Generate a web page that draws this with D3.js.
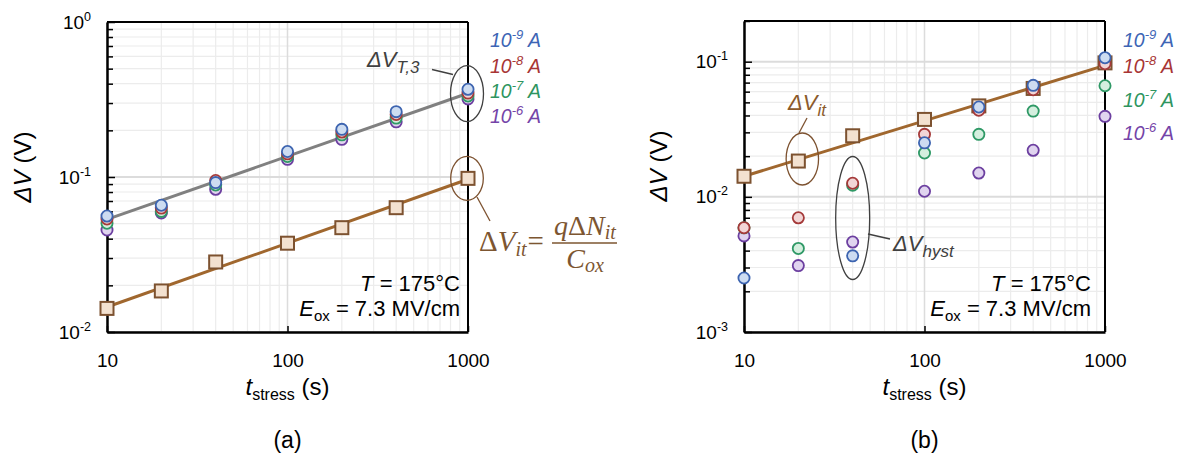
<!DOCTYPE html>
<html><head><meta charset="utf-8">
<script src="https://cdn.jsdelivr.net/npm/d3@7"></script>
<style>body{margin:0;background:#fff}svg{display:block}</style>
</head><body><svg id="c" width="1180" height="455"></svg>
<script>
// ---------------- data ----------------
const tStress = [10, 20, 40, 100, 200, 400, 1000];
const currentExps = [-9, -8, -7, -6];
const xTickValues = [10, 100, 1000];
const xTickLabels = ["10", "100", "1000"];
const yTickExpsA = [-2, -1, 0];
const yTickExpsB = [-3, -2, -1];

// (a) threshold-voltage shift ΔV_T,3 per sensing current
const dVT3_1e9 = [0.056, 0.0657, 0.092, 0.146, 0.203, 0.264, 0.368];
const dVT3_1e8 = [0.0536, 0.063, 0.0949, 0.141, 0.195, 0.253, 0.348];
const dVT3_1e7 = [0.0503, 0.060, 0.0888, 0.1356, 0.187, 0.240, 0.333];
const dVT3_1e6 = [0.0455, 0.0586, 0.0833, 0.130, 0.175, 0.227, 0.319];
// interface-trap contribution ΔV_it
const dVit = [0.0142, 0.0184, 0.0283, 0.0374, 0.0471, 0.0634, 0.098];
// power-law fit end points
const fitT = [10, 1000];
const fitT3 = [0.0533, 0.347];
const fitItA = [0.0145, 0.0967];
const fitItB = [0.0142, 0.094];

// (b) hysteresis ΔV_hyst per sensing current
const dVhyst_1e9 = [0.00251, null, 0.00366, 0.0251, 0.0462, 0.0668, 0.107];
const dVhyst_1e8 = [0.00591, 0.0070, 0.0126, 0.029, 0.0437, 0.062, 0.0966];
const dVhyst_1e7 = [0.0059, 0.00415, 0.0122, 0.0211, 0.029, 0.0431, 0.0664];
const dVhyst_1e6 = [0.00514, 0.0031, 0.00463, 0.011, 0.0150, 0.0221, 0.0394];

// ---------------- styles ----------------
const SANS = "'Liberation Sans', Arial, sans-serif";
const SERIF = "'Liberation Serif', 'Times New Roman', serif";
const seriesStyle = [
  {stroke: "#3d64b0", fill: "#cddcf1", text: "#3d65b5"},
  {stroke: "#a53a3a", fill: "#f2d6d6", text: "#a83535"},
  {stroke: "#2f9966", fill: "#d5efdf", text: "#2e955f"},
  {stroke: "#6c3fa0", fill: "#e0d4ef", text: "#7444a8"}
];
const BROWN_LINE = "#a0672e", BROWN_EDGE = "#7d5230", BROWN_FILL = "#f3e1d0", BROWN_TEXT = "#7d5631";

const svg = d3.select("#c");

function gridValues(lo, hi) {
  const out = [];
  for (let e = Math.floor(Math.log10(lo)) - 1; e <= Math.ceil(Math.log10(hi)); e++) {
    for (let k = 1; k <= 9; k++) {
      const v = k * Math.pow(10, e);
      if (v >= lo * 0.9999 && v <= hi * 1.0001) out.push(+v.toPrecision(6));
    }
  }
  return out;
}
const isMajor = v => Math.abs(Math.log10(v) - Math.round(Math.log10(v))) < 1e-6;

function panel(o) {
  const x = d3.scaleLog().domain([10, 1000]).range([o.x0, o.x1]);
  const y = d3.scaleLog().domain(o.yDomain).range([o.yBottom, o.yTop]);
  const g = svg.append("g");

  // grid
  const gx = gridValues(10, 1000), gy = gridValues(o.yDomain[0], o.yDomain[1]);
  g.append("g").selectAll("line").data(gx.filter(v => !isMajor(v))).join("line")
    .attr("x1", d => x(d)).attr("x2", d => x(d)).attr("y1", o.yTop).attr("y2", o.yBottom)
    .attr("stroke", "#ececec").attr("stroke-width", 1.2);
  g.append("g").selectAll("line").data(gy.filter(v => !isMajor(v))).join("line")
    .attr("y1", d => y(d)).attr("y2", d => y(d)).attr("x1", o.x0).attr("x2", o.x1)
    .attr("stroke", "#ececec").attr("stroke-width", 1.2);
  g.append("g").selectAll("line").data(gx.filter(isMajor)).join("line")
    .attr("x1", d => x(d)).attr("x2", d => x(d)).attr("y1", o.yTop).attr("y2", o.yBottom)
    .attr("stroke", "#dcdcdc").attr("stroke-width", 1.5);
  g.append("g").selectAll("line").data(gy.filter(isMajor)).join("line")
    .attr("y1", d => y(d)).attr("y2", d => y(d)).attr("x1", o.x0).attr("x2", o.x1)
    .attr("stroke", "#dcdcdc").attr("stroke-width", 2);

  // frame (top/right)
  g.append("line").attr("x1", o.x0).attr("x2", o.x1).attr("y1", o.yTop).attr("y2", o.yTop).attr("stroke", "#000").attr("stroke-width", 2);
  g.append("line").attr("x1", o.x1).attr("x2", o.x1).attr("y1", o.yTop).attr("y2", o.yBottom).attr("stroke", "#000").attr("stroke-width", 2);

  // y axis with inside ticks
  const yAx = g.append("g").attr("transform", `translate(${o.x0},0)`)
    .call(d3.axisLeft(y).tickValues(gy).tickSizeInner(-6).tickSizeOuter(0).tickFormat(() => ""));
  yAx.select(".domain").attr("stroke-width", 2.5);
  yAx.selectAll(".tick line").attr("stroke-width", 1.5).attr("x2", d => isMajor(d) ? 8 : 6);
  const yLab = g.append("g").attr("transform", `translate(${o.x0},0)`)
    .call(d3.axisLeft(y).tickValues(o.yTickExps.map(e => Math.pow(10, e))).tickSize(0).tickPadding(o.yPad).tickFormat(() => ""));
  yLab.select(".domain").remove();
  yLab.selectAll(".tick text").each(function(d) {
    const t = d3.select(this).attr("font-family", SANS).attr("font-size", 19).attr("fill", "#000").attr("dy", "0.32em");
    t.append("tspan").text("10");
    t.append("tspan").attr("font-size", 12.5).attr("dy", -8).text(String(Math.round(Math.log10(d))));
  });

  // x axis
  const xAx = g.append("g").attr("transform", `translate(0,${o.yBottom})`)
    .call(d3.axisBottom(x).tickValues(xTickValues).tickSizeInner(-6).tickSizeOuter(0).tickPadding(22)
      .tickFormat((d, i) => xTickLabels[i]));
  xAx.select(".domain").attr("stroke-width", 2.5);
  xAx.selectAll(".tick line").attr("stroke-width", 1.5);
  xAx.selectAll(".tick text").attr("font-family", SANS).attr("font-size", 19).attr("fill", "#000");

  // axis titles
  const yt = g.append("text").attr("transform", `translate(${o.yTitleX},${o.yTitleY}) rotate(-90)`)
    .attr("text-anchor", "middle").attr("font-family", SANS).attr("font-size", 24).attr("fill", "#000");
  yt.append("tspan").attr("font-style", "italic").text("ΔV");
  yt.append("tspan").text(" (V)");
  const xt = g.append("text").attr("x", (o.x0 + o.x1) / 2).attr("y", 395)
    .attr("text-anchor", "middle").attr("font-family", SANS).attr("font-size", 24).attr("fill", "#000");
  xt.append("tspan").attr("font-style", "italic").text("t");
  xt.append("tspan").attr("font-size", 16).attr("dy", 5).text("stress");
  xt.append("tspan").attr("dy", -5).text(" (s)");
  g.append("text").attr("x", (o.x0 + o.x1) / 2).attr("y", 448).attr("text-anchor", "middle")
    .attr("font-family", SANS).attr("font-size", 23).attr("fill", "#000").text(o.panelLabel);

  // conditions
  const c1 = g.append("text").attr("x", o.condX).attr("y", 291).attr("text-anchor", "end")
    .attr("font-family", SANS).attr("font-size", 22).attr("fill", "#000");
  c1.append("tspan").attr("font-style", "italic").text("T");
  c1.append("tspan").text(" = 175°C");
  const c2 = g.append("text").attr("x", o.condX).attr("y", 316).attr("text-anchor", "end")
    .attr("font-family", SANS).attr("font-size", 22).attr("fill", "#000");
  c2.append("tspan").attr("font-style", "italic").text("E");
  c2.append("tspan").attr("font-size", 15).attr("dy", 5).text("ox");
  c2.append("tspan").attr("dy", -5).text(" = 7.3 MV/cm");

  // legend
  o.legendY.forEach((ly, i) => {
    const t = g.append("text").attr("x", o.legendX).attr("y", ly).attr("font-family", SANS)
      .attr("font-size", 19.5).attr("font-style", "italic").attr("fill", seriesStyle[i].text);
    t.append("tspan").text("10");
    t.append("tspan").attr("font-size", 13).attr("dy", -8).text(String(currentExps[i]));
    t.append("tspan").attr("dy", 8).text(" A");
  });
  return {g, x, y};
}

function fitLine(p, ys, color) {
  p.g.append("line").attr("x1", p.x(fitT[0])).attr("x2", p.x(fitT[1]))
    .attr("y1", p.y(ys[0])).attr("y2", p.y(ys[1])).attr("stroke", color).attr("stroke-width", 3);
}
function squares(p, vals) {
  const s = 13;
  p.g.append("g").selectAll("rect").data(tStress.map((t, i) => [t, vals[i]])).join("rect")
    .attr("x", d => p.x(d[0]) - s / 2).attr("y", d => p.y(d[1]) - s / 2).attr("width", s).attr("height", s)
    .attr("fill", BROWN_FILL).attr("stroke", BROWN_EDGE).attr("stroke-width", 2);
}
function circles(p, seriesList) {
  // draw 1e-6 first, 1e-9 last (on top)
  [3, 2, 1, 0].forEach(si => {
    const vals = seriesList[si];
    p.g.append("g").selectAll("circle")
      .data(tStress.map((t, i) => [t, vals[i]]).filter(d => d[1] != null)).join("circle")
      .attr("cx", d => p.x(d[0])).attr("cy", d => p.y(d[1])).attr("r", 5.6)
      .attr("fill", seriesStyle[si].fill).attr("stroke", seriesStyle[si].stroke).attr("stroke-width", 1.8);
  });
}

// ---------------- panel (a) ----------------
const A = panel({x0: 107, x1: 468, yTop: 22, yBottom: 332, yDomain: [0.01, 1], yTickExps: yTickExpsA, yPad: 16,
  yTitleX: 31, yTitleY: 167, panelLabel: "(a)", condX: 460, legendX: 490, legendY: [47, 73, 98, 123]});
fitLine(A, fitT3, "#808080");
fitLine(A, fitItA, BROWN_LINE);
squares(A, dVit);
circles(A, [dVT3_1e9, dVT3_1e8, dVT3_1e7, dVT3_1e6]);

// annotations (a)
A.g.append("ellipse").attr("cx", A.x(1000) - 1).attr("cy", A.y(0.345)).attr("rx", 16.5).attr("ry", 28)
  .attr("fill", "none").attr("stroke", "#404040").attr("stroke-width", 1.3);
A.g.append("line").attr("x1", 432).attr("y1", 69.5).attr("x2", 453).attr("y2", 74.5).attr("stroke", "#404040").attr("stroke-width", 1.3);
const aT3 = A.g.append("text").attr("x", 367).attr("y", 67).attr("font-family", SANS).attr("font-style", "italic").attr("fill", "#404040").attr("font-size", 22);
aT3.append("tspan").text("ΔV");
aT3.append("tspan").attr("font-size", 17).attr("dy", 6).text("T,3");

A.g.append("ellipse").attr("cx", A.x(1000) - 1).attr("cy", A.y(0.098)).attr("rx", 16.3).attr("ry", 22)
  .attr("fill", "none").attr("stroke", BROWN_EDGE).attr("stroke-width", 1.3);
A.g.append("line").attr("x1", 477).attr("y1", 197).attr("x2", 490).attr("y2", 221).attr("stroke", BROWN_EDGE).attr("stroke-width", 1.3);

// formula ΔV_it = qΔN_it / C_ox
const f1 = A.g.append("text").attr("x", 479).attr("y", 251).attr("font-family", SERIF).attr("font-size", 29).attr("fill", BROWN_TEXT);
f1.append("tspan").text("Δ");
f1.append("tspan").attr("font-style", "italic").text("V");
f1.append("tspan").attr("font-style", "italic").attr("font-size", 20).attr("dy", 5).text("it");
f1.append("tspan").attr("dy", -5).attr("dx", 1).text("=");
const f2 = A.g.append("text").attr("x", 585).attr("y", 235).attr("text-anchor", "middle").attr("font-family", SERIF).attr("font-size", 28).attr("fill", BROWN_TEXT);
f2.append("tspan").attr("font-style", "italic").text("q");
f2.append("tspan").text("Δ");
f2.append("tspan").attr("font-style", "italic").text("N");
f2.append("tspan").attr("font-style", "italic").attr("font-size", 20).attr("dy", 4).text("it");
A.g.append("line").attr("x1", 552).attr("x2", 617).attr("y1", 243).attr("y2", 243).attr("stroke", BROWN_TEXT).attr("stroke-width", 1.5);
const f3 = A.g.append("text").attr("x", 585).attr("y", 268).attr("text-anchor", "middle").attr("font-family", SERIF).attr("font-size", 28).attr("fill", BROWN_TEXT);
f3.append("tspan").attr("font-style", "italic").text("C");
f3.append("tspan").attr("font-style", "italic").attr("font-size", 20).attr("dy", 4).text("ox");

// ---------------- panel (b) ----------------
const B = panel({x0: 744, x1: 1105, yTop: 21, yBottom: 332, yDomain: [0.001, 0.2], yTickExps: yTickExpsB, yPad: 16,
  yTitleX: 667, yTitleY: 166, panelLabel: "(b)", condX: 1091, legendX: 1123, legendY: [47, 73, 107, 140]});
fitLine(B, fitItB, BROWN_LINE);
squares(B, dVit);
circles(B, [dVhyst_1e9, dVhyst_1e8, dVhyst_1e7, dVhyst_1e6]);

// annotations (b)
B.g.append("ellipse").attr("cx", B.x(20) + 4).attr("cy", 159).attr("rx", 16.2).attr("ry", 26)
  .attr("fill", "none").attr("stroke", BROWN_EDGE).attr("stroke-width", 1.3);
B.g.append("line").attr("x1", 799).attr("y1", 133).attr("x2", 807).attr("y2", 118).attr("stroke", BROWN_EDGE).attr("stroke-width", 1.3);
const bIt = B.g.append("text").attr("x", 788).attr("y", 110).attr("font-family", SANS).attr("font-style", "italic").attr("fill", "#8b5a2b").attr("font-size", 22);
bIt.append("tspan").text("ΔV");
bIt.append("tspan").attr("font-size", 17).attr("dy", 6).text("it");

B.g.append("ellipse").attr("cx", B.x(40)).attr("cy", 218).attr("rx", 17).attr("ry", 61.5)
  .attr("fill", "none").attr("stroke", "#404040").attr("stroke-width", 1.3);
B.g.append("line").attr("x1", 868).attr("y1", 234).attr("x2", 890).attr("y2", 239).attr("stroke", "#404040").attr("stroke-width", 1.3);
const bH = B.g.append("text").attr("x", 893).attr("y", 251).attr("font-family", SANS).attr("font-style", "italic").attr("fill", "#404040").attr("font-size", 22);
bH.append("tspan").text("ΔV");
bH.append("tspan").attr("font-size", 17).attr("dy", 6).text("hyst");
</script></body></html>
